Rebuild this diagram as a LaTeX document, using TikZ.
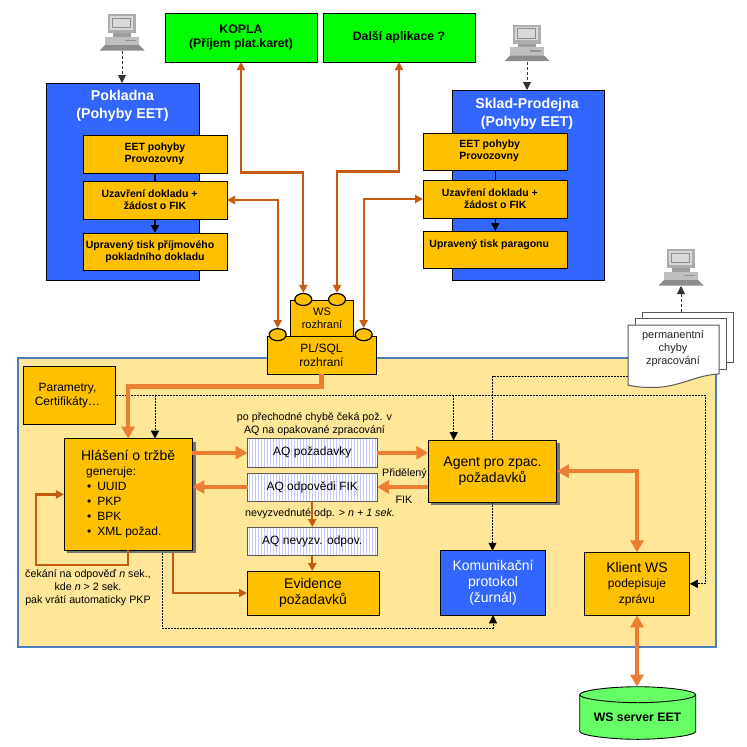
\documentclass[tikz,border=0pt]{standalone}
\usepackage{fontspec}
\setmainfont{Liberation Sans}
\usetikzlibrary{arrows.meta,calc,patterns,shapes.geometric}

\definecolor{zelena}{HTML}{00FF00}
\definecolor{modra}{HTML}{3366FF}
\definecolor{zluta}{HTML}{FFC000}
\definecolor{pisek}{HTML}{FFE699}
\definecolor{oranz}{HTML}{ED7D31}
\definecolor{rez}{HTML}{C55A11}
\definecolor{okraj}{HTML}{4A7EBB}

% Pocitac (monitor, skrin, klavesnice)
\newcommand{\pocitac}[2]{
    \node[pcbox] (#1) at (#2) {};
    \begin{scope}[shift={(#1.center)}]
        \fill[black!32] (-14.5,-18.5) rectangle (14,0.5);
        \fill[black!15] (-12,-16.5) rectangle (10.5,-3);
        \draw[black!45, line width=0.6] (-10,-14.5) rectangle (8.5,-5);
        \fill[black!38] (-9,0.5) rectangle (9,4);
        \fill[black!25] (-17,4) rectangle (17,12.5);
        \fill[black!42] (3,7) rectangle (14,8.5);
        \fill[black!45] (-17,12.5) -- (17,12.5) -- (22.5,18) -- (-22.5,18) -- cycle;
    \end{scope}
}

\begin{document}
\begin{tikzpicture}[
        x=1pt, y=-1pt,
        box/.style={draw, line width=0.9pt, inner sep=0pt, outer sep=0pt, align=center}, % Obecny obdelnik
        apl/.style={box, fill=zelena, font=\fontsize{12.3}{14}\selectfont\bfseries},
        modul/.style={box, fill=modra},
        krok/.style={box, fill=zluta, font=\fontsize{10.5}{12}\selectfont\bfseries},
        proces/.style={box, fill=zluta, font=\fontsize{14}{16}\selectfont},
        stin/.style={fill=black!55},
        fronta/.style={box, draw=black!65, pattern=vertical lines, pattern color=blue!22, preaction={fill=white}, font=\fontsize{12}{14}\selectfont},
        titul/.style={text=white, align=center, font=\fontsize{14.2}{18}\selectfont\bfseries},
        popis/.style={align=center, inner sep=0pt, font=\fontsize{10.7}{12.7}\selectfont},
        ouska/.style={ellipse, draw, line width=1.2pt, fill=zluta, minimum width=17pt, minimum height=12pt, inner sep=0pt},
        pcbox/.style={minimum width=45pt, minimum height=37pt, inner sep=0pt, outer sep=0pt},
        list/.style={draw=black!65, line width=1pt, fill=white},
        tip/.style={-{Triangle[length=#1pt, width=#1pt]}},
        tip/.default=8,
        silna/.style={draw=oranz, line width=4.5pt, -{Triangle[length=12pt, width=13pt]}},
        silna2/.style={silna, {Triangle[length=12pt, width=13pt]}-{Triangle[length=12pt, width=13pt]}},
        rezava/.style={draw=rez, line width=2.2pt, -{Triangle[length=8pt, width=8pt]}},
        rezava2/.style={rezava, {Triangle[length=8pt, width=8pt]}-{Triangle[length=8pt, width=8pt]}},
        carky/.style={draw, line width=0.8pt, dash pattern=on 2pt off 1pt},
        sipka/.style={carky, tip},
        sipkaPc/.style={sipka, black!80, dash pattern=on 3pt off 2pt},
    ]
    \useasboundingbox (0,0) rectangle (747,747);

    % Velka plocha
    \node[box, draw=okraj, line width=1.5pt, fill=pisek, minimum width=698pt, minimum height=289pt] (plocha) at (367,502.5) {};

    % Horni aplikace
    \node[apl, minimum width=152pt, minimum height=49pt] (kopla) at (241,37.5) {KOPLA\\(Příjem plat.karet)};
    \node[apl, minimum width=152pt, minimum height=49pt] (dalsi) at (399,37.5) {Další aplikace ?};

    % Pokladna
    \node[modul, minimum width=153pt, minimum height=197pt] (pokladna) at (122.5,181.5) {};
    \node[titul] (pokladnaTitul) at (122.5,105.5) {Pokladna\\(Pohyby EET)};
    \node[krok, minimum width=144pt, minimum height=38pt] (eet1) at (155,154) {\begin{tabular}{@{}l@{}}EET pohyby\\Provozovny\end{tabular}};
    \node[krok, minimum width=144pt, minimum height=38pt] (uzav1) at (155,200) {Uzavření dokladu +\hspace*{11pt}\\žádost o FIK};
    \node[krok, minimum width=144pt, minimum height=37pt] (tisk1) at (155,251.5) {Upravený tisk příjmového\hspace*{10pt}\\pokladního dokladu};

    % Sklad
    \node[modul, minimum width=152pt, minimum height=190pt] (sklad) at (528,185) {};
    \node[titul] (skladTitul) at (527,113.5) {Sklad-Prodejna\\(Pohyby EET)};
    \node[krok, minimum width=144.5pt, minimum height=37pt] (eet2) at (495.25,151.5) {\begin{tabular}{@{}l@{}}EET pohyby\\Provozovny\end{tabular}\hspace*{11pt}};
    \node[krok, minimum width=144.5pt, minimum height=38pt] (uzav2) at (495.25,199) {Uzavření dokladu +\hspace*{11pt}\\žádost o FIK};
    \node[krok, minimum width=144.5pt, minimum height=37pt] (tisk2) at (495.25,249.5) {Upravený tisk paragonu\hspace*{12pt}\\\mbox{}};

    % Pocitace
    \pocitac{pc1}{122,32.5}
    \pocitac{pc2}{527,43}
    \pocitac{pc3}{681,267.5}

    % Rozhrani
    \node[box, fill=zluta, minimum width=62.5pt, minimum height=36pt, font=\fontsize{11}{13}\selectfont] (ws) at (322,318) {WS\\rozhraní};
    \node[box, fill=zluta, minimum width=109pt, minimum height=38pt, font=\fontsize{12}{14}\selectfont] (plsql) at (321.5,355) {PL/SQL\\rozhraní};
    \node[ouska] (ws1) at (303.3,299.5) {};
    \node[ouska] (ws2) at (337,299.5) {};
    \node[ouska] (pl1) at (277.7,334.7) {};
    \node[ouska] (pl2) at (363.7,334.7) {};

    % Vnitrek plochy
    \fill[stin] (67,441.7) rectangle (195.5,553);
    \fill[stin] (431.3,443.3) rectangle (559.7,505);
    \node[box, fill=zluta, minimum width=92pt, minimum height=58.5pt, font=\fontsize{12}{14}\selectfont] (param) at (69.5,395.2) {Parametry,\hspace*{4pt}\\Certifikáty…\hspace*{4pt}};
    \node[proces, minimum width=128.5pt, minimum height=111.5pt] (hlaseni) at (128.2,494.4) {\raisebox{-2.5pt}{\begin{tabular}{@{}l@{}}Hlášení o tržbě\\[-1pt]
            \fontsize{12}{14}\selectfont\hspace*{5pt}generuje:\\[-1pt]
            \fontsize{12}{14}\selectfont\hspace*{6pt}\textbullet\hspace{6pt}UUID\\[-1pt]
            \fontsize{12}{14}\selectfont\hspace*{6pt}\textbullet\hspace{6pt}PKP\\[-1pt]
            \fontsize{12}{14}\selectfont\hspace*{6pt}\textbullet\hspace{6pt}BPK\\[-1pt]
            \fontsize{12}{14}\selectfont\hspace*{6pt}\textbullet\hspace{6pt}XML požad.\end{tabular}}};
    \node[fronta, minimum width=129.5pt, minimum height=28.5pt] (aqpoz) at (312.25,452.75) {AQ požadavky};
    \node[fronta, minimum width=129.5pt, minimum height=28pt] (aqodp) at (312.25,487) {AQ odpovědi FIK};
    \node[fronta, minimum width=129.5pt, minimum height=28.5pt] (aqnev) at (312.25,541.25) {AQ nevyzv. odpov.};
    \node[proces, minimum width=132pt, minimum height=44pt] (evidence) at (313,593) {Evidence\\požadavků};
    \node[proces, minimum width=128.5pt, minimum height=62pt] (agent) at (492.5,471.2) {Agent pro zpac.\\požadavků};
    \node[proces, fill=modra, text=white, minimum width=105.5pt, minimum height=64.5pt] (komun) at (493,583) {Komunikační\\protokol\\(žurnál)};
    \node[proces, minimum width=105.5pt, minimum height=63pt] (klient) at (637,583.8) {Klient WS\\[-1pt]{\fontsize{12}{14}\selectfont podepisuje}\\{\fontsize{12}{14}\selectfont zprávu}};

    % Server
    \node[inner sep=0pt, outer sep=0pt, minimum width=116pt, minimum height=52.6pt] (server) at (637.7,713) {};
    \draw[line width=0.9pt, fill=green!60!white] ($(server.north west)+(0,8)$) .. controls ++(0,-4.4) and ++(-26,0) .. (server.north) .. controls ++(26,0) and ++(0,-4.4) .. ($(server.north east)+(0,8)$) -- ($(server.south east)+(0,-8)$) .. controls ++(0,4.4) and ++(26,0) .. (server.south) .. controls ++(-26,0) and ++(0,4.4) .. ($(server.south west)+(0,-8)$) -- cycle;
    \draw[line width=0.9pt] ($(server.north west)+(0,8)$) .. controls ++(0,4.4) and ++(-26,0) .. ($(server.north)+(0,16)$) .. controls ++(26,0) and ++(0,4.4) .. ($(server.north east)+(0,8)$);
    \node[inner sep=0pt, font=\fontsize{12.3}{13}\selectfont\bfseries] (serverText) at (637.5,717) {WS server EET};

    % Popisky
    \node[popis] (txtCeka) at (314.5,424.5) {po přechodné chybě čeká pož. v\\AQ na opakované zpracování};
    \node[popis] (txtNevyz) at (320,513.5) {nevyzvednuté odp. > \textit{n + 1 sek.}};
    \node[popis] (txtPrid) at (404.5,474) {Přidělený};
    \node[popis] (txtFik) at (404,500) {FIK};
    \node[popis] (txtCekani) at (88,587.5) {čekání na odpověď \textit{n} sek.,\\kde \textit{n} > 2 sek.\\pak vrátí automaticky PKP};

    % Dokument s chybami
    \coordinate (docHore) at (681,312);
    \coordinate (docLevo) at (628,376);
    \draw[carky] (docLevo) -| (agent.north);
    \draw[list] (642.7,312.3) rectangle (733.3,362.3);
    \draw[list] (635.7,318.3) rectangle (726,369);
    \draw[list] (628,325) -- (719,325) -- (719,374) .. controls (695,375) and (680,387.5) .. (652,387.5) .. controls (645,387.5) and (635,387) .. (628,385) -- cycle;
    \node[popis, text=black!85, font=\fontsize{11}{13}\selectfont] (txtChyby) at (673,349) {permanentní\\chyby\\zpracování};

    % Carkovane spoje
    \draw[sipkaPc] (pc1.south) -- (pc1.south |- pokladna.north);
    \draw[sipkaPc] (pc2.south) -- (pc2.south |- sklad.north);
    \draw[sipkaPc] (docHore) -- (docHore |- pc3.south);
    \draw[sipka] (param.east) -- ++(589.5,0) |- (klient.east);
    \coordinate (odbHlaseni) at (155,395.2);
    \coordinate (odbAgent) at (453.7,395.2);
    \draw[sipka] (odbHlaseni) -- (odbHlaseni |- hlaseni.north);
    \draw[sipka] (odbAgent) -- (odbAgent |- agent.north);
    \draw[sipka] (agent.south) -- (agent.south |- komun.north);
    \coordinate (hlasCarka) at (162,553);
    \draw[sipka] (hlasCarka) -- ++(0,75) -| (komun.south);

    % Cerne sipky v modulech
    \draw[line width=1.5pt] (eet1.south) -- (uzav1.north);
    \draw[line width=1.5pt, tip] (uzav1.south) -- (tisk1.north);
    \draw[line width=1.5pt] (eet2.south) -- (uzav2.north);
    \draw[line width=1.5pt, tip] (uzav2.south) -- (tisk2.north);

    % Rezave spoje
    \draw[rezava2] (ws1.north) -- ++(0,-120.5) -| (kopla.south);
    \draw[rezava2] (ws2.north) -- ++(0,-121.5) -| (dalsi.south);
    \draw[rezava2] (pl1.north) |- (uzav1.east);
    \draw[rezava2] (pl2.north) |- (uzav2.west);
    \draw[rezava] (aqodp.south) -- (aqnev.north);
    \draw[rezava] (aqnev.south) -- (aqnev.south |- evidence.north);
    \coordinate (hlasEvid) at (173,553);
    \draw[rezava] (hlasEvid) |- (evidence.west);
    \draw[rezava] (hlaseni.south) -- ++(0,15) -- ++(-92,0) |- (hlaseni.west);

    % Silne oranzove spoje
    \draw[silna] (plsql.south) -- ++(0,12.5) -| (hlaseni.north);
    \draw[silna] (hlaseni.east |- aqpoz) -- (aqpoz.west);
    \draw[silna] (aqpoz.east) -- (aqpoz.east -| agent.west);
    \draw[silna] (agent.west |- aqodp) -- (aqodp.east);
    \draw[silna] (aqodp.west) -- (aqodp.west -| hlaseni.east);
    \draw[silna2] (agent.east) -| (klient.north);
    \draw[silna2] (klient.south) -- (klient.south |- server.north);
\end{tikzpicture}
\end{document}
